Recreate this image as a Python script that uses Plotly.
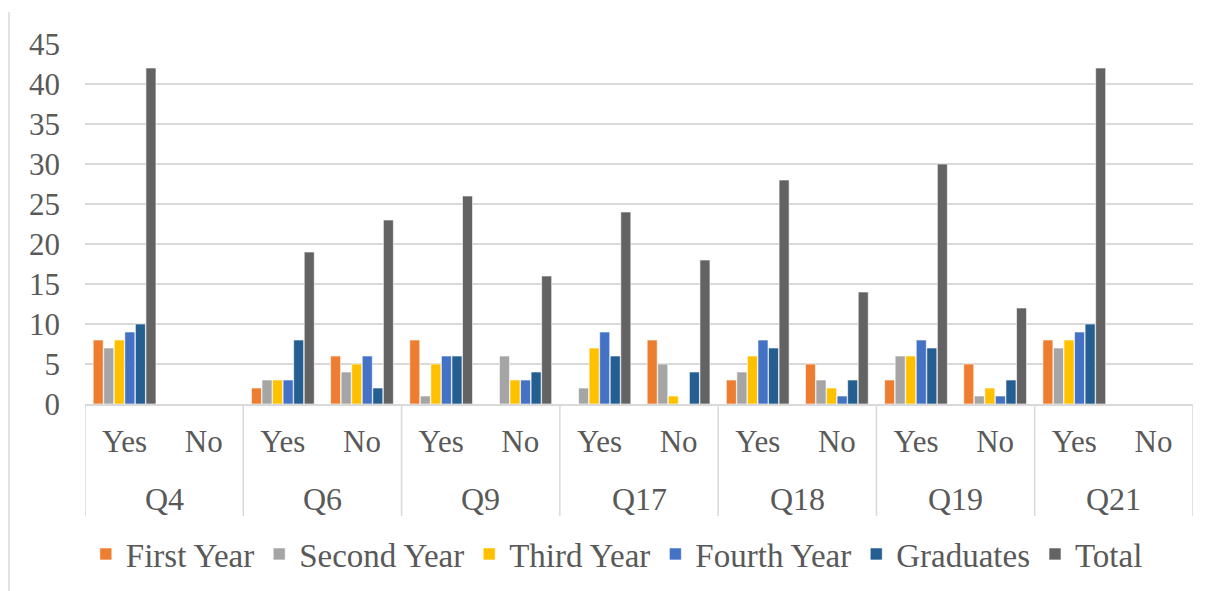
import plotly.graph_objects as go

questions = ["Q4", "Q6", "Q9", "Q17", "Q18", "Q19", "Q21"]
answers = ["Yes", "No"] * 7

first_year = [8, 0, 2, 6, 8, 0, 0, 8, 3, 5, 3, 5, 8, 0]
second_year = [7, 0, 3, 4, 1, 6, 2, 5, 4, 3, 6, 1, 7, 0]
third_year = [8, 0, 3, 5, 5, 3, 7, 1, 6, 2, 6, 2, 8, 0]
fourth_year = [9, 0, 3, 6, 6, 3, 9, 0, 8, 1, 8, 1, 9, 0]
graduates = [10, 0, 8, 2, 6, 4, 6, 4, 7, 3, 7, 3, 10, 0]
total = [42, 0, 19, 23, 26, 16, 24, 18, 28, 14, 30, 12, 42, 0]

series = [
    ("First Year", first_year, "#ED7D31"),
    ("Second Year", second_year, "#A5A5A5"),
    ("Third Year", third_year, "#FFC000"),
    ("Fourth Year", fourth_year, "#4472C4"),
    ("Graduates", graduates, "#255E91"),
    ("Total", total, "#636363"),
]

FONT = "Liberation Serif, Times New Roman, serif"
TXT = "#595959"
FS = 31
FS_LEG = 33
GRID = "#D9D9D9"

PLOT_TOP, PLOT_BOTTOM = 44, 404
PH = PLOT_BOTTOM - PLOT_TOP


def py(pix):
    return (PLOT_BOTTOM - pix) / PH


xpos = list(range(len(answers)))

fig = go.Figure()
for name, vals, color in series:
    fig.add_trace(go.Bar(
        x=xpos, y=vals, name=name,
        marker=dict(color=color, line=dict(color="rgba(255,255,255,0.6)", width=1)),
    ))

annotations = []
for i, q in enumerate(questions):
    annotations.append(dict(
        x=2 * i + 0.5, y=py(499), xref="x", yref="paper",
        text=q, showarrow=False, xanchor="center", yanchor="middle",
        font=dict(family=FONT, size=FS + 1, color=TXT),
    ))

shapes = []
for k in range(len(questions) + 1):
    xv = 2 * k - 0.5
    shapes.append(dict(type="line", xref="x", yref="paper",
                       x0=xv, x1=xv, y0=0, y1=py(516),
                       line=dict(color=GRID, width=1.5)))
shapes.append(dict(type="line", xref="paper", yref="paper",
                   x0=(9 - 85) / 1108, x1=(9 - 85) / 1108,
                   y0=py(12), y1=py(591),
                   line=dict(color=GRID, width=1.5)))

fig.update_layout(
    width=1211, height=591,
    margin=dict(l=85, r=18, t=PLOT_TOP, b=591 - PLOT_BOTTOM, autoexpand=False),
    paper_bgcolor="white", plot_bgcolor="white",
    barmode="group", bargap=0.2, bargroupgap=0.05,
    font=dict(family=FONT, size=FS, color=TXT),
    legend=dict(orientation="h", x=0.48, xanchor="center", y=py(554), yanchor="middle",
                font=dict(family=FONT, size=FS_LEG, color=TXT),
                itemwidth=30, tracegroupgap=0),
    xaxis=dict(
        range=[-0.5, len(answers) - 0.5],
        tickmode="array", tickvals=xpos, ticktext=answers,
        showline=True, linecolor=GRID, linewidth=1.5,
        tickfont=dict(family=FONT, size=FS, color=TXT),
        ticks="", showgrid=False, zeroline=False, automargin=False,
        ticklabelstandoff=9,
    ),
    yaxis=dict(
        range=[0, 45], dtick=5, showgrid=True, gridcolor=GRID, gridwidth=1.5,
        zeroline=False, showline=False, ticks="",
        tickfont=dict(family=FONT, size=FS, color=TXT),
        ticklabelstandoff=24, automargin=False,
    ),
    annotations=annotations,
    shapes=shapes,
)

fig.write_html("out.html")
